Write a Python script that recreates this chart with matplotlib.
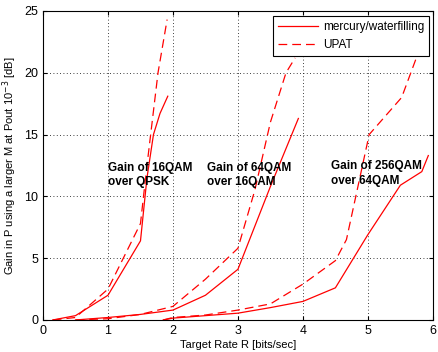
import matplotlib
matplotlib.use("Agg")
import matplotlib.pyplot as plt

plt.rcParams['font.family'] = ['Liberation Sans', 'DejaVu Sans']

# 16QAM over QPSK
r1_solid = [0.15, 0.5, 1.0, 1.5, 1.6, 1.7, 1.8, 1.92]
g1_solid = [0.0, 0.35, 2.0, 6.4, 11.5, 15.0, 16.7, 18.1]
r1_dash = [0.15, 0.5, 1.0, 1.5, 1.6, 1.77, 1.91]
g1_dash = [0.0, 0.2, 2.5, 7.8, 12.5, 20.0, 24.3]

# 64QAM over 16QAM
r2_solid = [0.5, 1.0, 1.5, 2.0, 2.5, 3.0, 3.5, 3.93]
g2_solid = [0.0, 0.2, 0.45, 0.8, 2.0, 4.1, 10.8, 16.3]
r2_dash = [0.5, 1.0, 1.5, 2.0, 2.5, 3.0, 3.26, 3.5, 3.74, 3.88]
g2_dash = [0.0, 0.1, 0.45, 1.1, 3.3, 5.8, 10.5, 16.0, 20.0, 21.2]

# 256QAM over 64QAM
r3_solid = [1.85, 2.0, 2.5, 3.0, 3.5, 4.0, 4.5, 5.0, 5.5, 5.83, 5.93]
g3_solid = [0.0, 0.15, 0.35, 0.55, 1.0, 1.5, 2.6, 6.9, 10.9, 12.0, 13.3]
r3_dash = [1.85, 2.0, 2.5, 3.0, 3.5, 4.0, 4.5, 4.67, 5.02, 5.52, 5.76]
g3_dash = [0.0, 0.2, 0.4, 0.8, 1.3, 2.9, 4.8, 6.5, 15.0, 18.0, 21.4]

labels = ["Gain of 16QAM\nover QPSK", "Gain of 64QAM\nover 16QAM", "Gain of 256QAM\nover 64QAM"]
label_x = [1.0, 2.52, 4.43]
label_y = [12.8, 12.8, 12.9]

xticks = [0, 1, 2, 3, 4, 5, 6]
yticks = [0, 5, 10, 15, 20, 25]

fig = plt.figure(figsize=(4.39, 3.52), dpi=100)
ax = fig.add_axes([0.098, 0.091, 0.888, 0.878])

red = '#ff0000'
lw = 0.9
dash = (0, (7, 4))
ax.plot(r1_solid, g1_solid, color=red, lw=lw, label='mercury/waterfilling')
ax.plot(r1_dash, g1_dash, color=red, lw=lw, linestyle=dash, label='UPAT')
ax.plot(r2_solid, g2_solid, color=red, lw=lw)
ax.plot(r2_dash, g2_dash, color=red, lw=lw, linestyle=dash)
ax.plot(r3_solid, g3_solid, color=red, lw=lw)
ax.plot(r3_dash, g3_dash, color=red, lw=lw, linestyle=dash)

for t, x, y in zip(labels, label_x, label_y):
    ax.text(x, y, t, fontsize=8.5, fontweight='bold', va='top', ha='left',
            linespacing=1.25)

ax.set_xlim(0, 6)
ax.set_ylim(0, 25)
ax.set_xticks(xticks)
ax.set_yticks(yticks)
ax.tick_params(direction='in', labelsize=9, length=3, top=True, right=True)
ax.grid(True, linestyle=(0, (1, 3)), color='black', linewidth=0.6)
for s in ax.spines.values():
    s.set_linewidth(0.8)

ax.set_xlabel('Target Rate R [bits/sec]', fontsize=8, labelpad=2)
ax.set_ylabel('Gain in P using a larger M at Pout 10$^{-3}$ [dB]', fontsize=8, labelpad=4)

leg = ax.legend(loc='upper right', bbox_to_anchor=(0.99, 0.982), fontsize=8.5,
                frameon=True, fancybox=False, edgecolor='black', framealpha=1,
                handlelength=3.4, borderpad=0.4, labelspacing=0.5, handletextpad=0.4,
                borderaxespad=0)
leg.get_frame().set_linewidth(0.8)

fig.savefig('out.png', dpi=100)
